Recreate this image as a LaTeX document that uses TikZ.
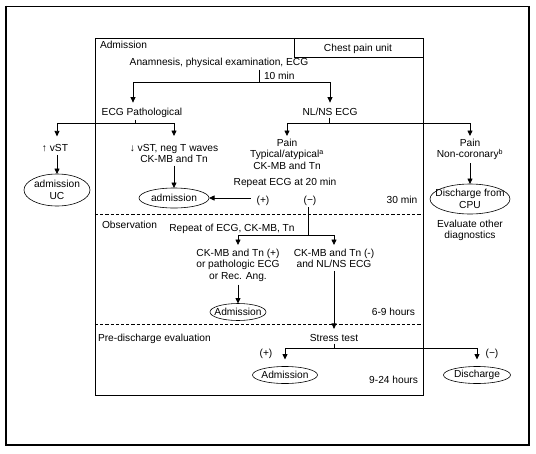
\documentclass[tikz,border=0pt]{standalone}
\usepackage{fontspec}
\setmainfont{Liberation Sans}
\usetikzlibrary{arrows.meta,shapes.geometric}
\newcommand\zw[1]{\makebox[0pt]{#1}}
\begin{document}
\begin{tikzpicture}[x=1pt,y=-1pt,
  txt/.style={font=\fontsize{10.2}{11.5}\selectfont, inner sep=0pt, outer sep=0pt, align=center},
  oval/.style={txt, draw, ellipse, line width=0.6pt},
  ln/.style={line width=0.8pt},
  arr/.style={ln, -{Triangle[length=5.5pt,width=5pt]}},
  frame/.style={line width=0.8pt},
  sep/.style={line width=0.7pt, dash pattern=on 3.2pt off 2pt}]
\useasboundingbox (0,0) rectangle (536,453);
\fill[white] (0,0) rectangle (536,453);
% outer frame
\draw[line width=0.7pt] (5.5,6) -- (529,6);
\draw[line width=2pt] (5.5,5.7) -- (5.5,445) -- (529,445) -- (529,5.7);
% inner box
\draw[frame] (95,38) rectangle (423,395);
\draw[frame] (294,38) -- (294,57) -- (423,57);
\draw[sep] (95,214) -- (423,214);
\draw[sep] (95,324) -- (423,324);
% texts
\node[txt, anchor=base west] (adm1) at (100,48.5) {Admission};
\node[txt, anchor=base] (cpu) at (358,51) {Chest pain unit};
\node[txt, anchor=base] (anam) at (219,65.5) {Anamnesis, physical examination, ECG};
\node[txt, anchor=base west] (tenmin) at (264,79) {10 min};
\node[txt, anchor=base] (ecgp) at (142,115.5) {ECG Pathological};
\node[txt, anchor=base] (nlns) at (330,115.5) {NL/NS ECG};
\node[txt, anchor=base] (upst) at (55,151.5) {↑ vST};
\node[txt, anchor=north] (dnst) at (174,144) {↓ vST, neg T waves\\CK-MB and Tn};
\node[oval, minimum width=66pt, minimum height=32pt] (admuc) at (57,190) {\zw{admission}\\\zw{UC}};
\node[oval, minimum width=70pt, minimum height=20pt] (admA) at (174,198) {\zw{admission}};
\node[txt, anchor=north] (pain1) at (287,139) {Pain\\Typical/atypical\textsuperscript{a}\\CK-MB and Tn};
\node[txt, anchor=base] (rep20) at (285,185.5) {Repeat ECG at 20 min};
\node[txt, anchor=base] (plus1) at (263,203.5) {(+)};
\node[txt, anchor=base] (minus1) at (310,203.5) {(−)};
\node[txt, anchor=base] (m30) at (402,203.5) {30 min};
\node[txt, anchor=north] (pain2) at (470,139) {Pain\\Non-coronary\textsuperscript{b}};
\node[oval, minimum width=80pt, minimum height=30pt] (dcpu) at (470,199) {\zw{Discharge from}\\\zw{CPU}};
\node[txt, anchor=north] (evo) at (470,220) {Evaluate other\\diagnostics};
\node[txt, anchor=base west] (obs) at (102,228.5) {Observation};
\node[txt, anchor=base] (rep2) at (232,231.5) {Repeat of ECG, CK-MB, Tn};
\node[txt, anchor=north] (ckp) at (238,249) {CK-MB and Tn (+)\\or pathologic ECG\\or Rec. Ang.};
\node[txt, anchor=north] (ckm) at (334,249) {CK-MB and Tn (-)\\and NL/NS ECG};
\node[oval, minimum width=56pt, minimum height=17pt] (admB) at (238,312) {\zw{Admission}};
\node[txt, anchor=base east] (h69) at (415,315.5) {6-9 hours};
\node[txt, anchor=base] (stress) at (334,341.5) {Stress test};
\node[txt, anchor=base west] (pre) at (98,341.5) {Pre-discharge evaluation};
\node[txt, anchor=base] (plus2) at (266,356.5) {(+)};
\node[txt, anchor=base] (minus2) at (492,356) {(−)};
\node[oval, minimum width=65pt, minimum height=17pt] (admC) at (285,375) {\zw{Admission}};
\node[txt, anchor=base east] (h924) at (418,383.5) {9-24 hours};
\node[oval, minimum width=67pt, minimum height=17pt] (dis) at (477,375) {\zw{Discharge}};
% junctions
\coordinate (j1) at (259,82);
\coordinate (j2) at (135,123);
\coordinate (j5) at (329,123);
\coordinate (j3) at (308,235);
\coordinate (j4) at (334,348);
% connectors
\draw[ln, shorten <=2pt] (j1 |- anam.south) -- (j1);
\draw[arr, shorten >=5.5pt] (j1) -| ([xshift=-9pt]ecgp.north);
\draw[arr, shorten >=5.5pt] (j1) -| (nlns.north);
\draw[ln, shorten <=2pt] (j2 |- ecgp.south) -- (j2);
\draw[arr, shorten >=8pt] (j2) -| ([xshift=2pt]upst.north);
\draw[arr, shorten >=8pt] (j2) -| (dnst.north);
\draw[ln, shorten <=2pt] (j5 |- nlns.south) -- (j5);
\draw[arr, shorten >=3pt] (j5) -| (pain1.north);
\draw[arr, shorten >=3pt] (j5) -| (pain2.north);
\draw[arr, shorten <=3pt] (upst.south -| admuc.north) -- (admuc.north);
\draw[arr, shorten <=3pt] (dnst.south) -- (admA.north);
\draw[arr, shorten <=6pt] (admA.east -| plus1.west) -- (admA.east);
\draw[arr, shorten <=3pt] (pain2.south) -- (dcpu.north);
\draw[ln, shorten <=1.5pt] (j3 |- minus1.south) -- (j3);
\draw[arr, shorten >=4pt] (j3) -| (ckp.north);
\draw[arr, shorten >=4pt] (j3) -| (ckm.north);
\draw[arr, shorten <=3pt] (ckp.south) -- (admB.north);
\draw[arr, shorten <=3pt, shorten >=5.5pt] (ckm.south) -- (stress.north);
\draw[ln, shorten <=2pt] (stress.south) -- (j4);
\draw[arr, shorten >=7pt] (j4) -| (admC.north);
\draw[arr, shorten >=7pt] (j4) -| (dis.north);
\end{tikzpicture}
\end{document}
